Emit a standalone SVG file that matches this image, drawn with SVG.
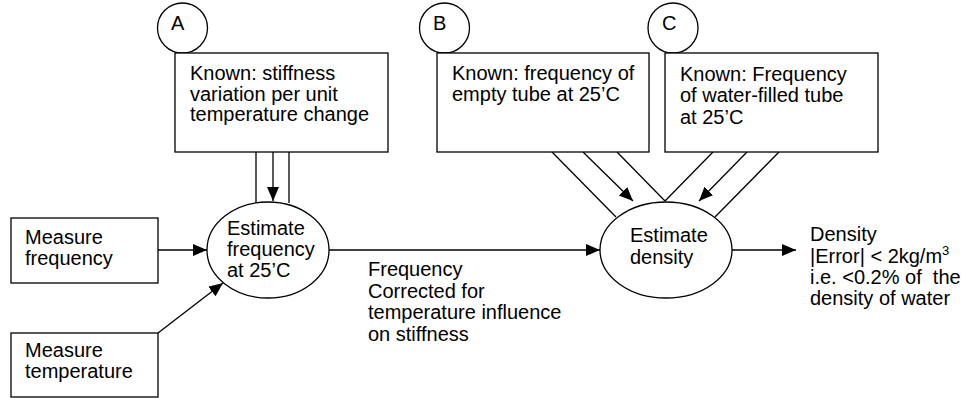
<svg xmlns="http://www.w3.org/2000/svg" width="964" height="398" viewBox="0 0 964 398">
  <defs>
    <marker id="arrow" markerUnits="userSpaceOnUse" markerWidth="15" markerHeight="13" refX="14" refY="6" orient="auto">
      <path d="M0,0 L14,6 L0,12 z" fill="#000"/>
    </marker>
    <style>
      .box { fill: #fff; stroke: #000; stroke-width: 1.3; }
      .line { fill: none; stroke: #000; stroke-width: 1.3; }
      .arr { fill: none; stroke: #000; stroke-width: 1.3; marker-end: url(#arrow); }
      text { font-family: "Liberation Sans", Arial, sans-serif; font-size: 20px; fill: #000; }
    </style>
  </defs>
  <rect width="964" height="398" fill="#fff"/>

  <!-- connectors -->
  <g id="connectors">
    <!-- stiffness input: twin rails with a central arrow -->
    <line class="line" x1="256" y1="152" x2="256" y2="203"/>
    <line class="line" x1="289" y1="152" x2="289" y2="203"/>
    <line class="arr" x1="273" y1="152" x2="273" y2="201"/>
    <!-- measurements into the frequency estimate -->
    <line class="arr" x1="158" y1="250" x2="207" y2="250"/>
    <line class="arr" x1="158" y1="333" x2="223" y2="283"/>
    <!-- corrected frequency to density estimate -->
    <line class="arr" x1="329" y1="250" x2="600" y2="250"/>
    <!-- empty tube frequency -->
    <line class="line" x1="552" y1="152" x2="616" y2="217"/>
    <line class="arr" x1="583" y1="152" x2="633" y2="201"/>
    <line class="line" x1="617" y1="152" x2="665" y2="201"/>
    <!-- water-filled tube frequency -->
    <line class="line" x1="713" y1="152" x2="665" y2="201"/>
    <line class="arr" x1="747" y1="152" x2="699" y2="201"/>
    <line class="line" x1="779" y1="152" x2="715" y2="217"/>
    <!-- result -->
    <line class="arr" x1="732" y1="250" x2="796" y2="250"/>
  </g>

  <g id="circle-a">
    <circle class="box" cx="182.5" cy="28" r="25"/>
    <text x="171" y="30">A</text>
  </g>
  <g id="circle-b">
    <circle class="box" cx="444.5" cy="28" r="25"/>
    <text x="433" y="30">B</text>
  </g>
  <g id="circle-c">
    <circle class="box" cx="673" cy="28" r="25"/>
    <text x="662" y="30">C</text>
  </g>

  <g id="known-stiffness">
    <rect class="box" x="175" y="53" width="213" height="99"/>
    <text x="190" y="80">Known: stiffness</text>
    <text x="190" y="100.5">variation per unit</text>
    <text x="190" y="121">temperature change</text>
  </g>
  <g id="known-empty">
    <rect class="box" x="437" y="53" width="212" height="99"/>
    <text x="452" y="80">Known: frequency of</text>
    <text x="452" y="101">empty tube at 25’C</text>
  </g>
  <g id="known-water">
    <rect class="box" x="665" y="53" width="213" height="99"/>
    <text x="680" y="80.5">Known: Frequency</text>
    <text x="680" y="102">of water-filled tube</text>
    <text x="680" y="123.5">at 25’C</text>
  </g>

  <g id="measure-frequency">
    <rect class="box" x="11" y="218" width="147" height="65"/>
    <text x="25" y="244">Measure</text>
    <text x="25" y="264.5">frequency</text>
  </g>
  <g id="measure-temperature">
    <rect class="box" x="11" y="333" width="147" height="64"/>
    <text x="25" y="357">Measure</text>
    <text x="25" y="378">temperature</text>
  </g>

  <g id="estimate-frequency">
    <ellipse class="box" cx="268" cy="250" rx="61" ry="48"/>
    <text x="227" y="235">Estimate</text>
    <text x="227" y="256">frequency</text>
    <text x="227" y="277">at 25’C</text>
  </g>
  <g id="estimate-density">
    <ellipse class="box" cx="666" cy="250" rx="66" ry="48"/>
    <text x="630" y="242">Estimate</text>
    <text x="630" y="264">density</text>
  </g>

  <g id="corrected-label">
    <text x="368" y="276">Frequency</text>
    <text x="368" y="297.5">Corrected for</text>
    <text x="368" y="319">temperature influence</text>
    <text x="368" y="340.5">on stiffness</text>
  </g>

  <g id="density-output">
    <text x="810" y="241">Density</text>
    <text x="810" y="262.5">|Error| &lt; 2kg/m<tspan dy="-8" font-size="13">3</tspan></text>
    <text x="810" y="283.5" xml:space="preserve">i.e. &lt;0.2% of  the</text>
    <text x="810" y="304.5">density of water</text>
  </g>
</svg>
